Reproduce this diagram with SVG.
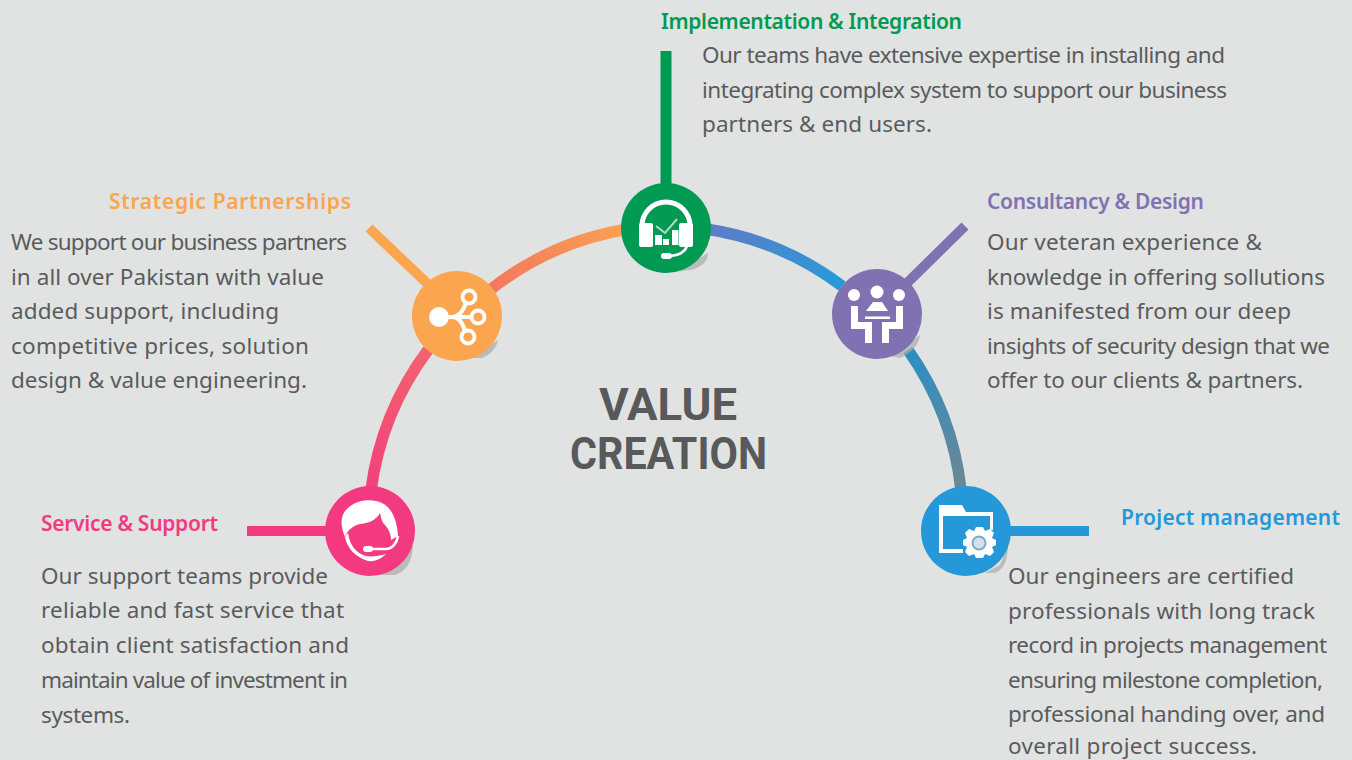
<svg xmlns="http://www.w3.org/2000/svg" width="1352" height="760" viewBox="0 0 1352 760">
<style>
text{font-family:"Noto Sans","Open Sans","DejaVu Sans",sans-serif}
.b{font-size:22.5px;fill:#5a5b5d}
.h{font-size:21px;font-weight:600}
.t{font-size:45px;font-weight:700;fill:#58595b;font-family:Roboto,"Noto Sans",sans-serif}
.arc{fill:none;stroke-width:11.5}
.w{fill:#fff}
.s{fill:none;stroke:#fff}
.sh{fill:#a9abab;opacity:.7}
</style>
<defs>
<linearGradient id="g1" gradientUnits="userSpaceOnUse" x1="370" y1="490" x2="440" y2="330"><stop offset="0" stop-color="#f3407c"/><stop offset="1" stop-color="#f4686c"/></linearGradient>
<linearGradient id="g2" gradientUnits="userSpaceOnUse" x1="480" y1="290" x2="630" y2="228"><stop offset="0" stop-color="#f4745f"/><stop offset="1" stop-color="#f9a352"/></linearGradient>
<linearGradient id="g3" gradientUnits="userSpaceOnUse" x1="705" y1="230" x2="840" y2="285"><stop offset="0" stop-color="#5f7cc6"/><stop offset="1" stop-color="#2899d8"/></linearGradient>
<linearGradient id="g4" gradientUnits="userSpaceOnUse" x1="910" y1="350" x2="962" y2="490"><stop offset="0" stop-color="#2b8fc4"/><stop offset="1" stop-color="#6e8794"/></linearGradient>
</defs>
<rect width="1352" height="760" fill="#e1e3e2"/>
<g id="connectors">
<path class="arc" stroke="url(#g1)" d="M371 490A300 300 0 0 1 428 350"/>
<path class="arc" stroke="url(#g2)" d="M490 290A300 300 0 0 1 628 229"/>
<path class="arc" stroke="url(#g3)" d="M706 229A300 300 0 0 1 842 286"/>
<path class="arc" stroke="url(#g4)" d="M908 350A300 300 0 0 1 961 490"/>
<path d="M666 51V190" stroke="#009a52" stroke-width="11" fill="none"/>
<path d="M369 228L432 288" stroke="#fba54e" stroke-width="10" fill="none"/>
<path d="M965 226L902 288" stroke="#8072b2" stroke-width="10" fill="none"/>
<path d="M247 531H335" stroke="#f33a80" stroke-width="10" fill="none"/>
<path d="M1000 531H1089" stroke="#2498d8" stroke-width="10" fill="none"/>
</g>
<g id="node-implementation">
<path class="sh" d="M700 258L708 253Q708 266 690 270L675 272Z"/>
<circle cx="666" cy="228" r="45" fill="#009a52"/>
<path d="M642 230V226A24 24 0 0 1 690 226V230" fill="none" stroke="#fff" stroke-width="5"/>
<rect class="w" x="639" y="223" width="14" height="24" rx="2"/>
<rect class="w" x="679" y="223" width="14" height="24" rx="2"/>
<rect class="w" x="655" y="235" width="7" height="10"/><rect class="w" x="663" y="239" width="6" height="6"/><rect class="w" x="672" y="230" width="6.5" height="15"/>
<path d="M656 226L665 233L677 219" fill="none" stroke="#b7d9c4" stroke-width="2"/>
<path d="M687 246Q684 255 670 256" fill="none" stroke="#fff" stroke-width="2.5"/>
<rect class="w" x="661" y="253" width="11" height="6" rx="3"/>
</g>
<g id="node-strategic">
<path class="sh" d="M490 345L498 340Q496 352 482 358L470 358Z"/>
<circle cx="457" cy="316" r="45" fill="#fba54e"/>
<circle class="w" cx="439" cy="317" r="10"/>
<path class="s" stroke-width="4" d="M445 317H471M452 317Q461 317 466 303M452 317Q461 317 465 331"/>
<circle class="s" stroke-width="3.8" cx="469" cy="297" r="6.5"/>
<circle class="s" stroke-width="3.8" cx="478" cy="317" r="6.5"/>
<circle class="s" stroke-width="3.8" cx="468" cy="337" r="6.5"/>
</g>
<g id="node-consultancy">
<path class="sh" d="M905 345L920 335Q918 350 900 358L890 356Z"/>
<circle cx="877" cy="314" r="45" fill="#8072b2"/>
<circle class="w" cx="877" cy="292" r="6.5"/>
<circle class="w" cx="854" cy="295" r="6"/>
<circle class="w" cx="899" cy="295" r="6"/>
<path class="w" d="M866 311L873 302H882L888 311Z"/>
<rect class="w" x="865" y="316.5" width="25" height="2.5"/>
<path class="w" d="M851 306H858V322H872V343H865V329H851Z"/>
<path class="w" d="M903 306H896V322H882V343H889V329H903Z"/>
</g>
<g id="node-service">
<path class="sh" d="M400 560L413 545Q412 570 395 575L380 575Z" opacity=".4"/>
<circle cx="370" cy="531" r="45" fill="#f33a80"/>
<path class="w" d="M345 537C340 525 340 515 348 508C356 500 372 498 382 503C392 508 397 520 398 536L391 540C391 532 387 527 384 524C381 520 381 516 380 513C376 520 370 523 360 524C352 526 348 530 345 537Z"/>
<path class="w" d="M345 537C347 548 355 557 368 561C376 562 382 558 386 554C378 556 372 557 366 556C356 553 350 546 348 533Z"/>
<rect class="w" x="363" y="546" width="10" height="6" rx="3"/>
<path d="M370 549H386C392 549 397 543 398 536" fill="none" stroke="#fff" stroke-width="2.5"/>
</g>
<g id="node-project">
<path class="sh" d="M1000 565L1008 545Q1008 568 995 573L985 573Z"/>
<circle cx="966" cy="531" r="45" fill="#2498d8"/>
<path class="w" d="M939 505H962L966 512H993V530H990V516H943V549H963V553H939Z"/>
<path class="w" d="M979 527L983 527L985 531L990 529L994 533L992 538L996 540V545L992 547L994 552L990 556L985 554L983 558H976L974 554L969 556L965 552L967 547L963 545V540L967 538L965 533L969 529L974 531L976 527Z"/>
<circle cx="979" cy="543" r="6.5" fill="#cfe3ee" stroke="#7fa9c2" stroke-width="2"/>
</g>
<g id="center"><text class="t" x="599" y="420" textLength="138" lengthAdjust="spacingAndGlyphs">VALUE</text><text class="t" x="570" y="469" textLength="197" lengthAdjust="spacingAndGlyphs">CREATION</text></g>
<g id="text-implementation">
<text class="h" x="661" y="29" fill="#009a52" textLength="301">Implementation &amp; Integration</text>
<text class="b" x="702" y="63" textLength="523">Our teams have extensive expertise in installing and</text>
<text class="b" x="702" y="98" textLength="525">integrating complex system to support our business</text>
<text class="b" x="702" y="132" textLength="230">partners &amp; end users.</text>
</g>
<g id="text-strategic">
<text class="h" x="109" y="209" fill="#fba54e" textLength="242">Strategic Partnerships</text>
<text class="b" x="11" y="250" textLength="336">We support our business partners</text>
<text class="b" x="11" y="285" textLength="313">in all over Pakistan with value</text>
<text class="b" x="11" y="319" textLength="268">added support, including</text>
<text class="b" x="11" y="354" textLength="298">competitive prices, solution</text>
<text class="b" x="11" y="388" textLength="296">design &amp; value engineering.</text>
</g>
<g id="text-consultancy">
<text class="h" x="987" y="209" fill="#8072b2" textLength="217">Consultancy &amp; Design</text>
<text class="b" x="987" y="250" textLength="275">Our veteran experience &amp;</text>
<text class="b" x="987" y="285" textLength="338">knowledge in offering sollutions</text>
<text class="b" x="987" y="319" textLength="304">is manifested from our deep</text>
<text class="b" x="987" y="354" textLength="343">insights of security design that we</text>
<text class="b" x="987" y="388" textLength="316">offer to our clients &amp; partners.</text>
</g>
<g id="text-service">
<text class="h" x="41" y="531" fill="#f33a80" textLength="177">Service &amp; Support</text>
<text class="b" x="41" y="584" textLength="287">Our support teams provide</text>
<text class="b" x="41" y="618" textLength="303">reliable and fast service that</text>
<text class="b" x="41" y="653" textLength="308">obtain client satisfaction and</text>
<text class="b" x="41" y="688" textLength="307">maintain value of investment in</text>
<text class="b" x="41" y="723" textLength="89">systems.</text>
</g>
<g id="text-project">
<text class="h" x="1121" y="525" fill="#2498d8" textLength="219">Project management</text>
<text class="b" x="1008" y="584" textLength="286">Our engineers are certified</text>
<text class="b" x="1008" y="619" textLength="307">professionals with long track</text>
<text class="b" x="1008" y="653" textLength="319">record in projects management</text>
<text class="b" x="1008" y="688" textLength="315">ensuring milestone completion,</text>
<text class="b" x="1008" y="722" textLength="317">professional handing over, and</text>
<text class="b" x="1008" y="754" textLength="249">overall project success.</text>
</g>
</svg>
